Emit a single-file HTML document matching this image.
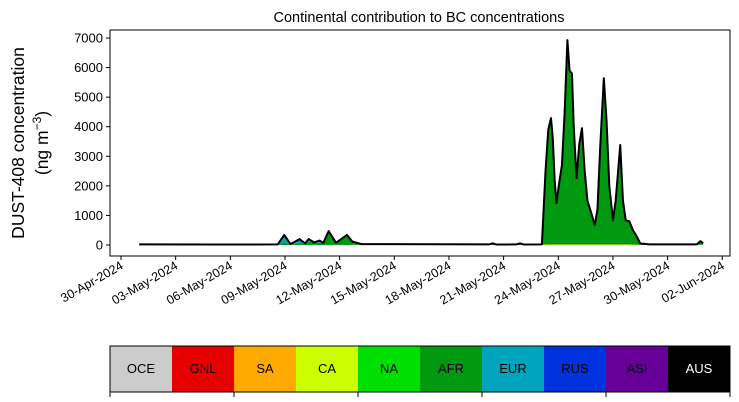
<!DOCTYPE html>
<html><head><meta charset="utf-8"><style>
body{margin:0;background:#fff;}
svg{display:block;font-family:"Liberation Sans","DejaVu Sans",sans-serif;}
</style></head><body>
<svg id="chart" width="739" height="402"></svg>
<script>
const times=[1,5,8.6,8.96,9.3,9.8,10.1,10.3,10.6,10.9,11.1,11.4,11.8,12.4,12.7,13.2,20.2,20.4,20.6,21.7,21.9,22.1,23.1,23.3,23.45,23.6,23.7,23.8,23.9,24.05,24.2,24.35,24.5,24.62,24.75,24.85,25.0,25.15,25.3,25.45,25.6,25.8,26.0,26.15,26.3,26.5,26.65,26.8,27.0,27.15,27.4,27.55,27.7,27.9,28.1,28.3,28.5,29,31.6,31.8,31.95];
const afr=[10,5,10,100,15,60,30,120,60,80,50,420,60,300,100,20,10,40,5,10,40,5,10,2470,3870,4260,3570,2170,1390,2070,2670,4470,6900,5870,5770,3970,2230,3370,3920,2470,1470,1070,650,1170,3270,5610,4170,1970,810,1470,3350,1470,810,770,470,280,40,10,10,110,40];
const eur=[5,5,5,240,10,140,20,80,20,70,15,50,10,40,10,5,5,10,5,5,10,5,5,10,10,10,10,10,10,10,10,10,10,10,10,10,10,10,10,10,10,10,10,10,10,10,10,10,10,10,10,10,10,10,10,10,5,5,5,10,10];
const na=[5,5,5,0,5,0,5,0,5,0,5,0,5,0,5,5,5,5,5,5,5,5,5,20,20,20,20,20,20,20,20,20,20,20,20,20,20,20,20,20,20,20,20,20,20,20,20,20,20,20,20,20,20,20,20,10,5,5,5,10,10];
const yTicks=[0,1000,2000,3000,4000,5000,6000,7000];
const xTickDays=[0,3,6,9,12,15,18,21,24,27,30,33];
const xTickLabels=["30-Apr-2024","03-May-2024","06-May-2024","09-May-2024","12-May-2024","15-May-2024","18-May-2024","21-May-2024","24-May-2024","27-May-2024","30-May-2024","02-Jun-2024"];
const regions=["OCE","GNL","SA","CA","NA","AFR","EUR","RUS","ASI","AUS"];
const regionColors=["#cccccc","#e60000","#ffaa00","#ccff00","#00e000","#009910","#00a5bd","#0033dd","#660099","#000000"];

const NS="http://www.w3.org/2000/svg";
const svg=document.getElementById('chart');
function mk(t,a,p){const e=document.createElementNS(NS,t);for(const k in a)e.setAttribute(k,a[k]);(p||svg).appendChild(e);return e;}
const L=110,R=730,T=30,B=256;
const X=d=>121+d*18.22;
const Y=v=>245-v*(207/7000);

const title=mk('text',{x:419,y:22,'text-anchor':'middle','font-size':14.5});
title.textContent='Continental contribution to BC concentrations';



const layers=[na,afr,eur];
const cols=["#aadd00","#009910","#00a5bd"];
const names=["area-na","area-afr","area-eur"];
let base=times.map(()=>0);
layers.forEach((arr,li)=>{
  const top=base.map((b,i)=>b+arr[i]);
  let d='M'+times.map((t,i)=>X(t)+','+Y(top[i])).join(' L');
  for(let i=times.length-1;i>=0;i--)d+=' L'+X(times[i])+','+Y(base[i]);
  const p=mk('path',{d:d+'Z',fill:cols[li]});
  
  
  base=top;
});
const tl=mk('path',{d:'M'+times.map((t,i)=>X(t)+','+Y(base[i])).join(' L'),fill:'none',stroke:'#000',"stroke-width":2,"stroke-linejoin":"round"});



const fr=mk('rect',{x:L,y:T,width:R-L,height:B-T,fill:'none',stroke:'#000','stroke-width':1});



yTicks.forEach(v=>{
  mk('line',{x1:L-4,x2:L,y1:Y(v),y2:Y(v),stroke:'#000'});
  const t=mk('text',{x:L-7,y:Y(v)+4.5,'text-anchor':'end','font-size':13});
  t.textContent=v;
  
  
});
xTickDays.forEach((d,i)=>{
  mk('line',{x1:X(d),x2:X(d),y1:B,y2:B+4,stroke:'#000'});
  const t=mk('text',{x:X(d)+3,y:B+12,'text-anchor':'end','font-size':12.5,transform:`rotate(-30 ${X(d)+3} ${B+12})`});
  t.textContent=xTickLabels[i];
  
  
});
const yt=mk('text',{x:0,y:0,'text-anchor':'middle','font-size':17.5,transform:'translate(24,143) rotate(-90)'});
yt.textContent='DUST-408 concentration';


const yt2=mk('text',{x:0,y:0,'text-anchor':'middle','font-size':17.5,transform:'translate(48,143) rotate(-90)'});
yt2.innerHTML='(ng m<tspan dy="-7" font-size="12">−3</tspan><tspan dy="7">)</tspan>';



const bw=62;
regions.forEach((r,i)=>{
  const g=mk('g',{});
  
  
  mk('rect',{x:L+i*bw,y:346,width:bw,height:46,fill:regionColors[i]},g);
  const t=mk('text',{x:L+i*bw+bw/2,y:373,'text-anchor':'middle','font-size':13,fill:r==="AUS"?"#fff":"#000"},g);
  t.textContent=r;
});
mk('rect',{x:L,y:346,width:620,height:46,fill:'none',stroke:'#000','stroke-width':1});
for(let i=0;i<=10;i+=2)mk('line',{x1:L+i*bw,x2:L+i*bw,y1:392,y2:397,stroke:'#000'});
</script>
</body></html>
